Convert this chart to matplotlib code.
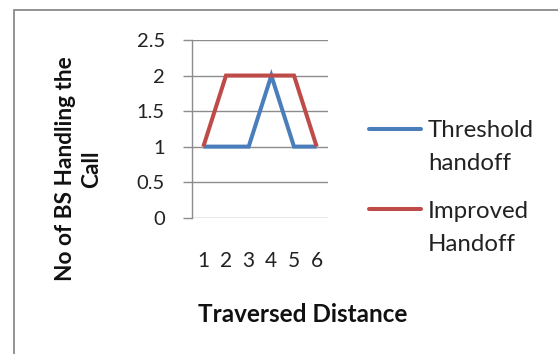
import matplotlib
matplotlib.use("Agg")
import matplotlib.pyplot as plt
from matplotlib.lines import Line2D
from matplotlib.patches import Rectangle

# distance steps and number of base stations serving the call
distance = [1, 2, 3, 4, 5, 6]
threshold_handoff = [1, 1, 1, 2, 1, 1]
improved_handoff = [1, 2, 2, 2, 2, 1]
series_names = [["Threshold", "handoff"], ["Improved", "Handoff"]]
y_ticks = [0, 0.5, 1, 1.5, 2, 2.5]
y_tick_labels = ["0", "0.5", "1", "1.5", "2", "2.5"]

blue = "#4A7EBB"
red = "#BE4B48"
grid_col = "#8C8C8C"

plt.rcParams["font.family"] = ["Lato", "DejaVu Sans"]

W, H = 558, 354
fig = plt.figure(figsize=(W / 100, H / 100), dpi=100)

def fx(px):
    return px / W

def fy(py):
    return 1 - py / H

# outer chart frame (runs off the right and bottom edges)
fig.patches.append(Rectangle((fx(14), fy(420)), 1.2, fy(10) - fy(420),
                             transform=fig.transFigure, fill=False,
                             edgecolor="#8A8A8A", linewidth=1.3))

ax = fig.add_axes([fx(192), fy(217.7), fx(328) - fx(192), fy(40) - fy(217.7)])
ax.plot(distance, threshold_handoff, color=blue, linewidth=2.9,
        solid_joinstyle="miter", solid_capstyle="butt", zorder=3)
ax.plot(distance, improved_handoff, color=red, linewidth=2.9,
        solid_joinstyle="miter", solid_capstyle="butt", zorder=3)

ax.set_xlim(0.5, 6.5)
ax.set_ylim(0, 2.5)
ax.set_yticks(y_ticks)
ax.set_yticklabels(y_tick_labels)
ax.set_xticks(distance)
ax.set_xticklabels([str(d) for d in distance])
ax.yaxis.grid(True, color=grid_col, linewidth=1.0)
ax.set_axisbelow(True)
for side in ["top", "right", "bottom"]:
    ax.spines[side].set_visible(False)
ax.spines["left"].set_color(grid_col)
ax.spines["left"].set_linewidth(1.0)
ax.tick_params(axis="y", length=6.5, width=1.0, color=grid_col, pad=13,
               labelsize=14.5, labelcolor="#222222")
ax.tick_params(axis="x", length=0, pad=24, labelsize=15, labelcolor="#222222")

fig.text(fx(303), fy(322), "Traversed Distance", ha="center", va="baseline",
         fontsize=17.5, fontweight="bold", color="#111111")
fig.text(fx(79), fy(169), "No of BS Handling the\nCall", ha="center",
         va="center", rotation=90, multialignment="center", fontsize=16.3,
         fontweight="bold", color="#111111", linespacing=1.3)

# legend entries: line swatch next to the first line of each name
for (yl, base, col, name) in [(129, 137.3, blue, series_names[0]),
                              (209, 218.0, red, series_names[1])]:
    fig.add_artist(Line2D([fx(369), fx(421)], [fy(yl), fy(yl)],
                          transform=fig.transFigure, color=col,
                          linewidth=2.9, solid_capstyle="round"))
    for i, part in enumerate(name):
        fig.text(fx(428), fy(base + 33 * i), part, ha="left", va="baseline",
                 fontsize=17.3, color="#222222")

fig.savefig("out.png", dpi=100)
